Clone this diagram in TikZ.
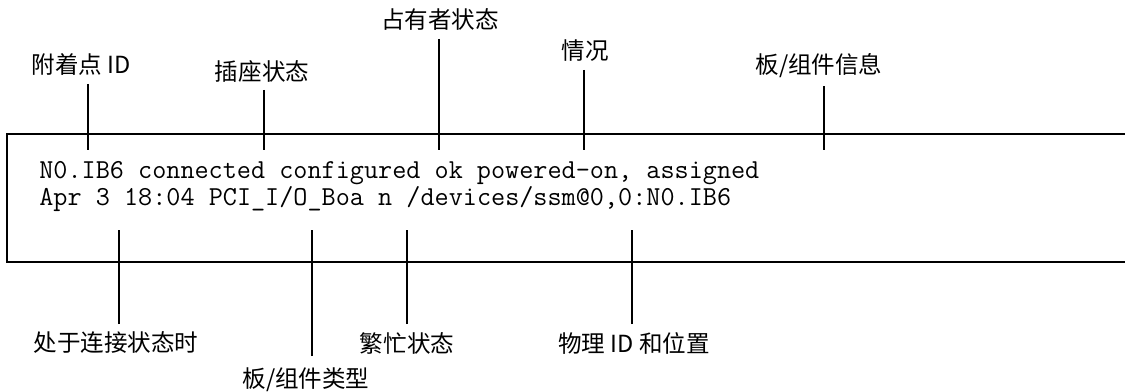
\documentclass[tikz,border=0pt]{standalone}
\usepackage{fontspec}
\newfontfamily\cjkfont{Noto Sans CJK SC}
\usepackage{tikz}
\tikzset{
  lbl/.style={font=\cjkfont\fontsize{13.4pt}{16pt}\selectfont, inner sep=0pt, outer sep=0.16cm},
  tick/.style={line width=0.04cm},
  codeline/.style={font=\ttfamily\fontsize{15.6pt}{13.9pt}\selectfont\frenchspacing, inner sep=0pt, align=left, anchor=base west}
}

\begin{document}
\begin{tikzpicture}
  \useasboundingbox (0,0) rectangle (22.5,-7.82);

  % output frame, open on the right
  \draw[tick] (22.6,-2.68) -- (0.15,-2.68) -- (0.15,-5.24) -- (22.6,-5.24);

  % the output lines
  \node[codeline] (output) at (0.78,-4.11) {N0.IB6 connected configured ok powered-on, assigned\\
    Apr 3 18:04 PCI\_I/O\_Boa n /devices/ssm@0,0:N0.IB6};

  % labels above the frame
  \node[lbl] (attach) at (1.62,-1.30) {附着点 ID};
  \node[lbl] (receptacle) at (5.24,-1.42) {插座状态};
  \node[lbl] (occupant) at (8.80,-0.40) {占有者状态};
  \node[lbl] (condition) at (11.70,-1.02) {情况};
  \node[lbl] (info) at (16.38,-1.32) {板/组件信息};

  \coordinate (attachend) at (1.76,-3.00);
  \coordinate (receptacleend) at (5.28,-3.00);
  \coordinate (occupantend) at (8.78,-3.00);
  \coordinate (conditionend) at (11.68,-3.00);
  \coordinate (infoend) at (16.48,-3.00);

  \draw[tick] (attach.south -| attachend) -- (attachend);
  \draw[tick] (receptacle.south -| receptacleend) -- (receptacleend);
  \draw[tick] (occupant.south -| occupantend) -- (occupantend);
  \draw[tick] (condition.south -| conditionend) -- (conditionend);
  \draw[tick] (info.south -| infoend) -- (infoend);

  % labels below the frame
  \node[lbl] (since) at (2.32,-6.86) {处于连接状态时};
  \node[lbl, outer sep=0.24cm] (boardtype) at (6.12,-7.60) {板/组件类型};
  \node[lbl] (busy) at (8.14,-6.86) {繁忙状态};
  \node[lbl] (physid) at (12.68,-6.86) {物理 ID 和位置};

  \coordinate (sinceend) at (2.38,-4.60);
  \coordinate (boardtypeend) at (6.24,-4.60);
  \coordinate (busyend) at (8.14,-4.60);
  \coordinate (physidend) at (12.64,-4.60);

  \draw[tick] (since.north -| sinceend) -- (sinceend);
  \draw[tick] (boardtype.north -| boardtypeend) -- (boardtypeend);
  \draw[tick] (busy.north -| busyend) -- (busyend);
  \draw[tick] (physid.north -| physidend) -- (physidend);
\end{tikzpicture}
\end{document}
